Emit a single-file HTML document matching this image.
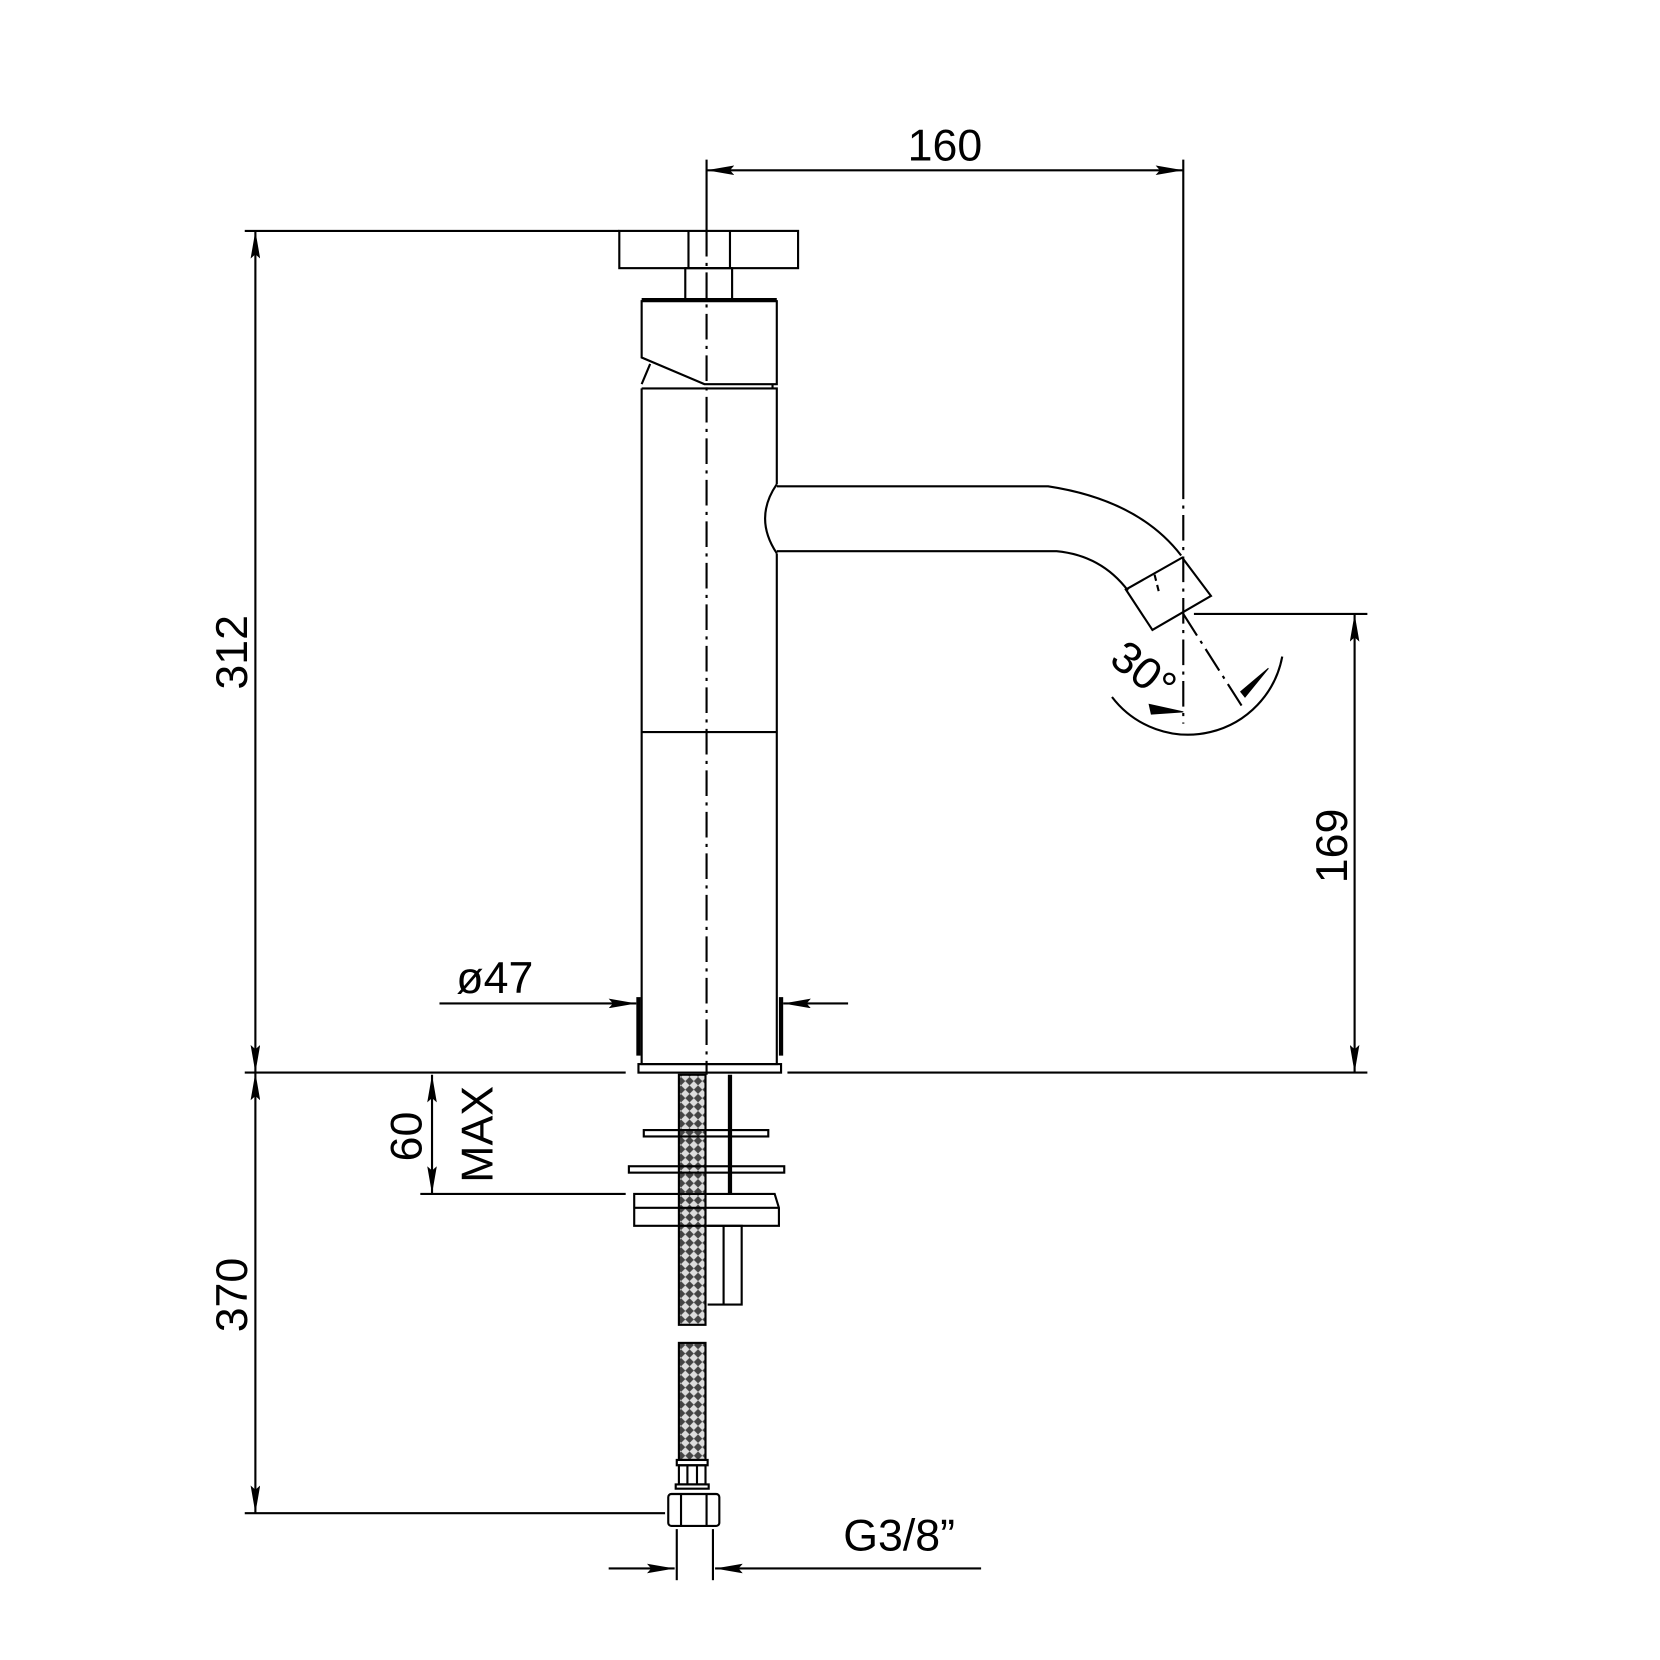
<!DOCTYPE html>
<html><head><style>
html,body{margin:0;padding:0;background:#fff}
svg{display:block}
text{font-family:"Liberation Sans",sans-serif;fill:#000}
</style></head><body>
<svg width="1660" height="1660" viewBox="0 0 1560 1560" xmlns="http://www.w3.org/2000/svg">
<defs>
<pattern id="mesh" width="8" height="8" patternUnits="userSpaceOnUse">
<rect width="8" height="8" fill="#444"/>
<path d="M0 4 L4 0 L8 4 L4 8 Z" fill="#ddd"/>
</pattern>
<marker id="ar" viewBox="0 0 26 9" refX="26" refY="4.5" markerWidth="26" markerHeight="9" markerUnits="userSpaceOnUse" orient="auto-start-reverse">
<path d="M0 0 L26 4.5 L0 9 L4 4.5 Z" fill="#000"/>
</marker>
</defs>
<g stroke="#000" stroke-width="2" fill="none">
<line x1="664" y1="150" x2="664" y2="217"/>
<line x1="664" y1="160" x2="1112" y2="160" marker-start="url(#ar)" marker-end="url(#ar)"/>
<line x1="1112" y1="150" x2="1112" y2="445"/>
<line x1="1112" y1="445" x2="1112" y2="680" stroke-dasharray="24,6,3,6"/>
<line x1="664" y1="217" x2="664" y2="1010" stroke-dasharray="24,6,3,6"/>
<rect x="582" y="217" width="168" height="35"/>
<line x1="647" y1="217" x2="647" y2="252"/>
<line x1="686" y1="217" x2="686" y2="252"/>
<rect x="644" y="252" width="44" height="30"/>
<line x1="603" y1="282" x2="730" y2="282" stroke-width="4"/>
<path d="M603 282 L603 336 L662 361 L730 361 L730 282"/>
<line x1="611" y1="342" x2="603" y2="361"/>
<line x1="726" y1="361" x2="726" y2="365"/>
<path d="M603 365 L730 365 L730 455 M730 520 L730 1000 L603 1000 L603 365"/>
<path d="M730 455 Q708 487 730 520"/>
<line x1="603" y1="688" x2="730" y2="688"/>
<rect x="600" y="1000" width="134" height="8"/>
<line x1="600" y1="937" x2="600" y2="992" stroke-width="4"/>
<line x1="734" y1="937" x2="734" y2="992" stroke-width="4"/>
<path d="M730 457 L985 457 Q1070 470 1110 522"/>
<path d="M730 518 L993 518 Q1035 522 1060 555"/>
<path d="M1058 554 L1111 524 L1138 560 L1083 592 Z"/>
<line x1="1085" y1="540" x2="1089" y2="556" stroke-dasharray="6,4"/>
<line x1="1112" y1="577" x2="1168" y2="665" stroke-dasharray="24,6,3,6"/>
<line x1="1122" y1="577" x2="1285" y2="577"/>
<path d="M1045 655 A90 90 0 0 0 1205 617"/>
<path d="M1080 662 L1112 669 L1082 671 Z" fill="#000" stroke-width="1"/>
<path d="M1166 650 L1192 628 L1170 655 Z" fill="#000" stroke-width="1"/>
<line x1="230" y1="217" x2="582" y2="217"/>
<line x1="240" y1="217" x2="240" y2="1008" marker-start="url(#ar)" marker-end="url(#ar)"/>
<line x1="230" y1="1008" x2="588" y2="1008"/>
<line x1="740" y1="1008" x2="1285" y2="1008"/>
<line x1="240" y1="1008" x2="240" y2="1422" marker-start="url(#ar)" marker-end="url(#ar)"/>
<line x1="230" y1="1422" x2="625" y2="1422"/>
<line x1="1273" y1="577" x2="1273" y2="1008" marker-start="url(#ar)" marker-end="url(#ar)"/>
<line x1="413" y1="943" x2="598" y2="943" marker-end="url(#ar)"/>
<line x1="797" y1="943" x2="736" y2="943" marker-end="url(#ar)"/>
<line x1="406" y1="1010" x2="406" y2="1122" marker-start="url(#ar)" marker-end="url(#ar)"/>
<line x1="395" y1="1122" x2="588" y2="1122"/>
<rect x="638" y="1010" width="25" height="235" fill="url(#mesh)"/>
<line x1="686" y1="1010" x2="686" y2="1122" stroke-width="4"/>
<rect x="605" y="1062" width="117" height="6"/>
<rect x="591" y="1096" width="146" height="6"/>
<path d="M596 1122 L728 1122 L732 1135 L732 1152 L596 1152 Z"/>
<line x1="596" y1="1135" x2="732" y2="1135"/>
<path d="M665 1152 L697 1152 L697 1226 L665 1226"/>
<line x1="680" y1="1152" x2="680" y2="1226"/>
<rect x="638" y="1262" width="25" height="110" fill="url(#mesh)"/>
<rect x="636" y="1372" width="29" height="5"/>
<rect x="638" y="1377" width="25" height="18"/>
<line x1="646" y1="1377" x2="646" y2="1395"/>
<line x1="655" y1="1377" x2="655" y2="1395"/>
<rect x="635" y="1395" width="31" height="4"/>
<rect x="628" y="1404" width="48" height="30" rx="3"/>
<line x1="640" y1="1404" x2="640" y2="1434"/>
<line x1="664" y1="1404" x2="664" y2="1434"/>
<line x1="636" y1="1437" x2="636" y2="1485"/>
<line x1="670" y1="1437" x2="670" y2="1485"/>
<line x1="572" y1="1474" x2="634" y2="1474" marker-end="url(#ar)"/>
<line x1="922" y1="1474" x2="672" y2="1474" marker-end="url(#ar)"/>
</g>
<g font-size="42">
<text x="888" y="151" text-anchor="middle">160</text>
<text transform="translate(232,613) rotate(-90)" text-anchor="middle">312</text>
<text transform="translate(232,1217) rotate(-90)" text-anchor="middle">370</text>
<text transform="translate(1266,795) rotate(-90)" text-anchor="middle">169</text>
<text x="465" y="933" text-anchor="middle">ø47</text>
<text transform="translate(396,1068) rotate(-90)" text-anchor="middle">60</text>
<text transform="translate(463,1066) rotate(-90)" text-anchor="middle">MAX</text>
<text x="845" y="1457" text-anchor="middle">G3/8”</text>
<text transform="translate(1066,642) rotate(38)" text-anchor="middle">30°</text>
</g>
</svg>
</body></html>
